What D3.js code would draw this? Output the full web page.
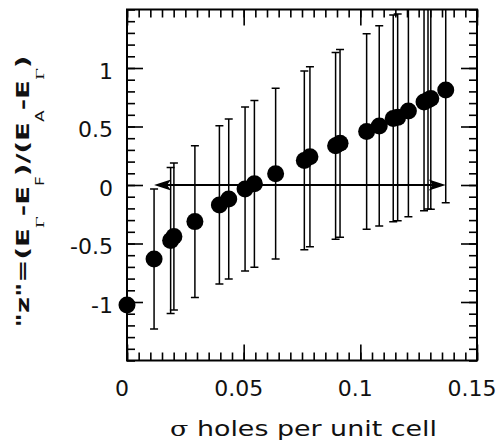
<!DOCTYPE html>
<html>
<head>
<meta charset="utf-8">
<script src="https://cdn.jsdelivr.net/npm/d3@7"></script>
<style>
  html, body { margin: 0; padding: 0; background: #fff; }
  svg { display: block; }
</style>
</head>
<body>
<svg id="chart" width="503" height="447"></svg>
<script>
// ---- data ----
const sigma = [0.0, 0.0116, 0.0187, 0.0201, 0.0291, 0.0396, 0.0436, 0.0506, 0.0546, 0.0637,
               0.0760, 0.0784, 0.0894, 0.0913, 0.1027, 0.1081, 0.1141, 0.1160, 0.1206,
               0.1273, 0.1290, 0.1302, 0.1366];
const zValues = [-1.026, -0.632, -0.475, -0.440, -0.313, -0.170, -0.120, -0.035, 0.010, 0.097,
                 0.210, 0.242, 0.335, 0.356, 0.457, 0.505, 0.569, 0.578, 0.632,
                 0.709, 0.726, 0.739, 0.812];
const zErrors = [null, 0.598, 0.624, 0.629, 0.649, 0.677, 0.684, 0.701, 0.712, 0.729,
                 0.764, 0.769, 0.798, 0.803, 0.836, 0.856, 0.883, 0.883, 0.903,
                 0.929, 0.932, 0.947, 0.963];
const xTickLabels = [0, 0.05, 0.1, 0.15];
const yTickLabels = [-1, -0.5, 0, 0.5, 1];
const xMinorStep = 0.005;
const yMinorStep = 0.1;
const xDomain = [0, 0.15];
const yDomain = [-1.5, 1.5];
const arrowRange = [0.0116, 0.1366];
const arrowLevel = 0;

(function () {
// ---- layout ----
const pL = 127, pR = 477, pT = 9.5, pB = 360.5;
const svg = d3.select("#chart");
const x = d3.scaleLinear().domain(xDomain).range([pL, pR]);
const y = d3.scaleLinear().domain(yDomain).range([pB, pT]);

const fmt = d => String(d);
const xMinor = d3.range(Math.round((xDomain[1]-xDomain[0])/xMinorStep)+1).map(i => +(xDomain[0] + i*xMinorStep).toFixed(4));
const yMinor = d3.range(Math.round((yDomain[1]-yDomain[0])/yMinorStep)+1).map(i => +(yDomain[0] + i*yMinorStep).toFixed(4));

const defs = svg.append("defs");
defs.append("clipPath").attr("id", "plotclip")
  .append("rect").attr("x", pL).attr("y", pT).attr("width", pR-pL).attr("height", pB-pT);

function styleAxis(g) {
  g.select(".domain").remove();
  g.selectAll(".tick line").attr("stroke", "#000").attr("stroke-width", 1.6);
  g.selectAll("text").attr("fill", "#111").attr("font-family", "DejaVu Sans").attr("font-size", 22);
}

// minor ticks
svg.append("g").attr("transform", `translate(0,${pB})`)
  .call(d3.axisBottom(x).tickValues(xMinor).tickSize(-8).tickFormat("")).call(styleAxis);
svg.append("g").attr("transform", `translate(0,${pT})`)
  .call(d3.axisTop(x).tickValues(xMinor).tickSize(-8).tickFormat("")).call(styleAxis);
svg.append("g").attr("transform", `translate(${pL},0)`)
  .call(d3.axisLeft(y).tickValues(yMinor).tickSize(-8).tickFormat("")).call(styleAxis);
svg.append("g").attr("transform", `translate(${pR},0)`)
  .call(d3.axisRight(y).tickValues(yMinor).tickSize(-8).tickFormat("")).call(styleAxis);

// major ticks
svg.append("g").attr("transform", `translate(0,${pB})`)
  .call(d3.axisBottom(x).tickValues(xTickLabels).tickSize(-16).tickPadding(20).tickFormat(fmt))
  .call(styleAxis)
  .call(g => g.selectAll("text").attr("x", -5.5));
svg.append("g").attr("transform", `translate(0,${pT})`)
  .call(d3.axisTop(x).tickValues(xTickLabels).tickSize(-16).tickFormat("")).call(styleAxis);
svg.append("g").attr("transform", `translate(${pL},0)`)
  .call(d3.axisLeft(y).tickValues(yTickLabels).tickSize(-16).tickPadding(14).tickFormat(fmt))
  .call(styleAxis)
  .call(g => g.selectAll("text").attr("y", 3));
svg.append("g").attr("transform", `translate(${pR},0)`)
  .call(d3.axisRight(y).tickValues(yTickLabels).tickSize(-16).tickFormat("")).call(styleAxis);

// frame
svg.append("rect").attr("x", pL).attr("y", pT).attr("width", pR-pL).attr("height", pB-pT)
  .attr("fill", "none").attr("stroke", "#000").attr("stroke-width", 2);

const data = sigma.map((s, i) => ({s, z: zValues[i], e: zErrors[i]}));

// error bars
const eb = svg.append("g").attr("clip-path", "url(#plotclip)")
  .attr("stroke", "#000").attr("stroke-width", 1.5).attr("fill", "none");
const withErr = data.filter(d => d.e != null);
eb.selectAll("line.v").data(withErr).join("line").attr("class", "v")
  .attr("x1", d => x(d.s)).attr("x2", d => x(d.s))
  .attr("y1", d => y(d.z - d.e)).attr("y2", d => y(d.z + d.e));
eb.selectAll("line.lo").data(withErr).join("line").attr("class", "lo")
  .attr("x1", d => x(d.s) - 4).attr("x2", d => x(d.s) + 4)
  .attr("y1", d => y(d.z - d.e)).attr("y2", d => y(d.z - d.e));
eb.selectAll("line.hi").data(withErr).join("line").attr("class", "hi")
  .attr("x1", d => x(d.s) - 4).attr("x2", d => x(d.s) + 4)
  .attr("y1", d => y(d.z + d.e)).attr("y2", d => y(d.z + d.e));

// double arrow
const ay = y(arrowLevel), ax0 = x(arrowRange[0]), ax1 = x(arrowRange[1]);
const arrow = svg.append("g");
arrow.append("line").attr("x1", ax0 + 4).attr("x2", ax1 - 4).attr("y1", ay).attr("y2", ay)
  .attr("stroke", "#000").attr("stroke-width", 2.2);
arrow.append("path").attr("d", `M${ax0},${ay} L${ax0+17},${ay-5.5} L${ax0+13},${ay} L${ax0+17},${ay+5.5} Z`).attr("fill", "#000");
arrow.append("path").attr("d", `M${ax1},${ay} L${ax1-17},${ay-5.5} L${ax1-13},${ay} L${ax1-17},${ay+5.5} Z`).attr("fill", "#000");

// points
svg.append("g").selectAll("circle").data(data).join("circle")
  .attr("cx", d => x(d.s)).attr("cy", d => y(d.z)).attr("r", 8.5).attr("fill", "#000");

// x label
const xl = svg.append("text").attr("text-anchor", "middle")
  .attr("font-family", "DejaVu Sans").attr("font-size", 21).attr("fill", "#111");
xl.append("tspan").attr("font-family", "DejaVu Serif").text("σ");
xl.append("tspan").text(" holes per unit cell");
{
  const w = xl.node().getBBox().width;
  xl.attr("transform", `translate(303.5,436) scale(${267 / w},1)`);
}

// y label
const yl = svg.append("text").attr("text-anchor", "middle")
  .attr("font-family", "DejaVu Sans").attr("font-weight", "bold").attr("font-size", 18.5).attr("fill", "#111");
const parts = [["\"z\"=(E", false], ["Γ", true], ["-E", false], ["F", true], [")/(E", false], ["A", true], ["-E", false], ["Γ", true], [")", false]];
let lowered = false;
parts.forEach(([t, sub]) => {
  const ts = yl.append("tspan").text(t);
  if (sub) {
    ts.attr("font-size", 11.5).attr("font-weight", "normal").attr("dy", lowered ? 0 : 16);
    if (t === "Γ") ts.attr("font-family", "DejaVu Serif");
    lowered = true;
  } else {
    if (lowered) ts.attr("dy", -16);
    lowered = false;
  }
});
{
  const w = yl.node().getBBox().width;
  yl.attr("transform", `translate(28.5,191.5) rotate(-90) scale(${272 / w},1)`);
}
})();
</script>
</body>
</html>
